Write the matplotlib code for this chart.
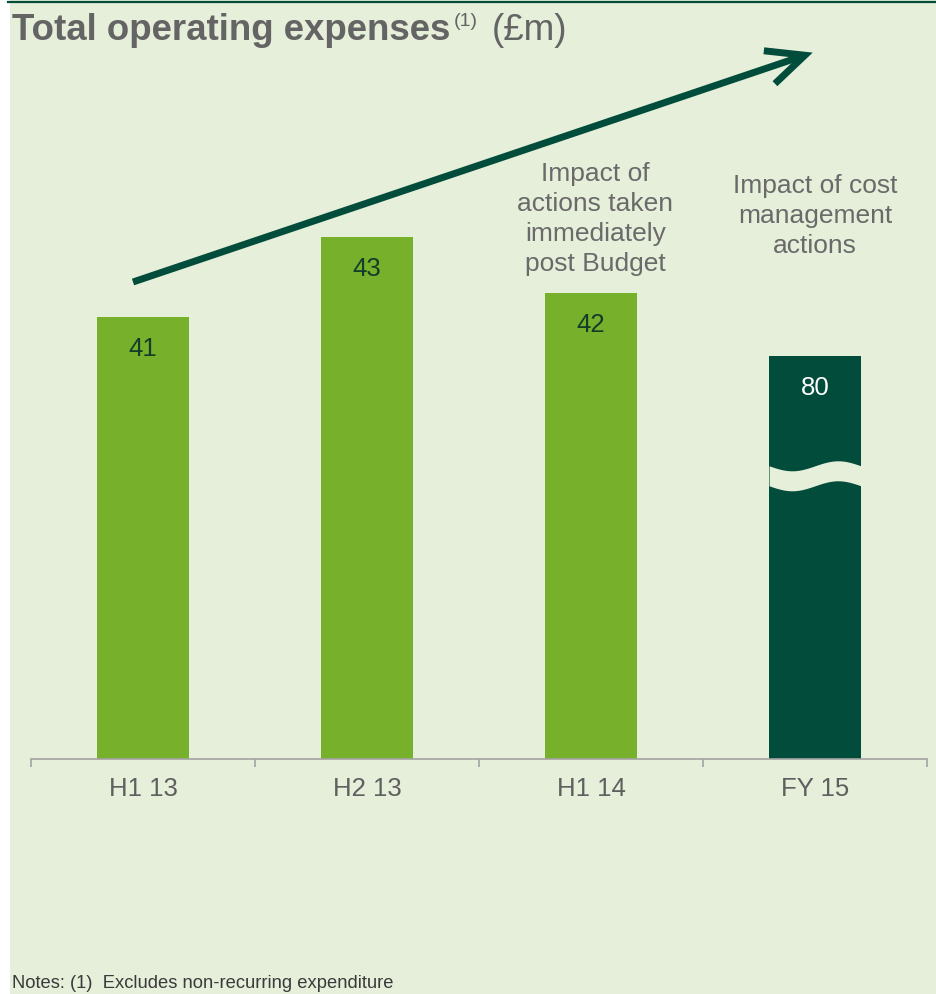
import numpy as np
import matplotlib
matplotlib.use("Agg")
import matplotlib.pyplot as plt
from matplotlib.patches import Rectangle
from matplotlib.lines import Line2D

plt.rcParams['font.family'] = ['Liberation Sans', 'DejaVu Sans']

# data -------------------------------------------------------
categories = ["H1 13", "H2 13", "H1 14", "FY 15"]
value_labels = ["41", "43", "42", "80"]
# bar lengths as drawn (FY 15 is a broken bar, drawn short)
bar_heights = [41.05, 43.05, 41.65, 40.08]
notes_h1 = "Impact of\nactions taken\nimmediately\npost Budget"
notes_fy = "Impact of cost\nmanagement\nactions"

# colours ----------------------------------------------------
bg = "#e5efd9"
light_green = "#77b02a"
dark_green = "#024c3b"
grey_txt = "#5f5f5f"

W, H = 937, 995
fig = plt.figure(figsize=(W / 100, H / 100), dpi=100, facecolor="white")

# background panel + top rule
fig.patches.append(Rectangle((10 / W, 0), 1, 1, transform=fig.transFigure,
                             facecolor=bg, edgecolor="none", zorder=-10))
fig.lines.append(Line2D([8 / W, 1], [1 - 2.5 / H, 1 - 2.5 / H], transform=fig.transFigure,
                        color=dark_green, lw=1.6))

ax = fig.add_axes([31 / W, 235 / H, 896 / W, 720 / H])
ax.set_facecolor("none")
ax.set_xlim(-0.5, 3.5)
ax.set_ylim(30, 48)

x = np.arange(len(categories))
colors = [light_green, light_green, light_green, dark_green]
bars = ax.bar(x, np.array(bar_heights) - 30, bottom=30, width=0.41, color=colors, zorder=2)

# value labels inside the bars
for b, lab, c in zip(bars, value_labels, colors):
    txt_col = "white" if c == dark_green else "#123d2a"
    ax.annotate(lab, (b.get_x() + b.get_width() / 2, b.get_y() + b.get_height()),
                xytext=(0, -14), textcoords="offset points", ha="center", va="top",
                fontsize=18.5, color=txt_col, zorder=4)

# break in FY 15 bar
fb = bars[3]
t = np.linspace(0, 1, 100)
xs = fb.get_x() + t * fb.get_width()
wave = 37.33 - 0.125 * np.sin(2 * np.pi * t)
ax.fill_between(xs, wave - 0.5, wave, color=bg, lw=0, zorder=3)

# axis styling
for s in ["top", "right", "left"]:
    ax.spines[s].set_visible(False)
ax.spines["bottom"].set_color("#a3a3a3")
ax.spines["bottom"].set_linewidth(1.2)
ax.set_yticks([])
ax.set_xticks(x)
ax.set_xticklabels(categories, fontsize=18.5, color=grey_txt)
ax.tick_params(axis="x", which="major", length=0, pad=12)
ax.set_xticks(np.arange(-0.5, 3.6, 1), minor=True)
ax.tick_params(axis="x", which="minor", length=6, width=1.2, color="#a3a3a3", direction="out")

# annotations
ax.text(2.02, 44.95, notes_h1, ha="center", va="top", fontsize=19, color="#6a6a6a",
        linespacing=1.32)
ax.text(3.0, 44.65, notes_fy, ha="center", va="top", fontsize=19, color="#6a6a6a",
        linespacing=1.32)

# trend arrow
ax.annotate("", xy=(2.99, 47.66), xytext=(-0.0446, 41.925),
            arrowprops=dict(arrowstyle="->,head_length=2.7,head_width=1.25",
                            mutation_scale=10, lw=5, color=dark_green,
                            shrinkA=0, shrinkB=0, joinstyle="miter", capstyle="butt"),
            zorder=5)

# title
fig.text(12 / W, 1 - 40 / H, "Total operating expenses", fontsize=26.4, weight="bold",
         color="#646464", va="baseline")
fig.text(454 / W, 1 - 26 / H, "(1)", fontsize=14, color="#646464", va="baseline")
fig.text(492 / W, 1 - 40 / H, "(£m)", fontsize=26.6, color="#646464", va="baseline")

# footnote
fig.text(12 / W, 1 - 988 / H, "Notes: (1)  Excludes non-recurring expenditure",
         fontsize=13.2, color="#3a3a3a", va="baseline")

fig.savefig("out.png", dpi=100, facecolor=fig.get_facecolor())
